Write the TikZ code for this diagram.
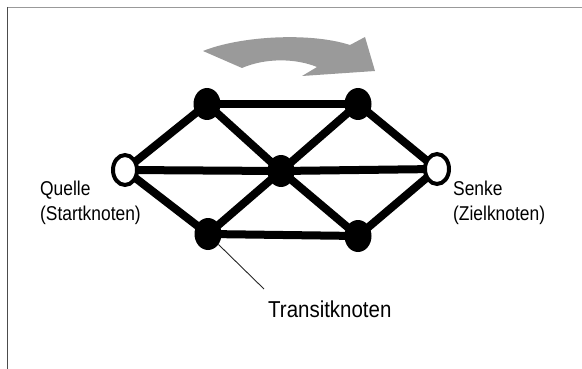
\documentclass[tikz,border=0pt]{standalone}
\usepackage{fontspec}
\setmainfont{Liberation Sans}
\newfontfamily\lblfont[FakeStretch=0.87]{Liberation Sans}
\newfontfamily\bigfont[FakeStretch=0.89]{Liberation Sans}
\usetikzlibrary{backgrounds,shapes.geometric}
\definecolor{arrowgray}{HTML}{9A9A9A}
\tikzset{
  blacknode/.style={ellipse, fill=black, inner sep=0pt, minimum width=27pt, minimum height=32pt},
  whitenode/.style={ellipse, draw=black, fill=white, line width=4pt, inner sep=0pt, minimum width=24pt, minimum height=30pt},
  edge/.style={line width=8pt, draw=black},
  lbl/.style={inner sep=0pt, anchor=base west, font=\lblfont\fontsize{20}{25}\selectfont},
  biglbl/.style={inner sep=0pt, anchor=base west, font=\bigfont\fontsize{23}{28}\selectfont},
  leader/.style={line width=0.9pt, draw=black!85},
}
\begin{document}
\begin{tikzpicture}[x=1pt,y=-1pt]
\useasboundingbox (0,0) rectangle (582,369);
% frame lines
\draw[line width=1.6pt, draw=black!40] (7,7.5) -- (582,7.5);
\draw[line width=1.3pt, draw=black!70] (7.5,7) -- (7.5,369);
% flow arrow
\fill[arrowgray] (203,51) .. controls (240,36) and (310,32) .. (350,45)
  -- (365,37) -- (375,71) -- (302,76) -- (317,67)
  .. controls (295,58) and (265,58) .. (242,68) -- cycle;
% nodes
\node[whitenode] (S) at (125,170) {};
\node[blacknode] (TL) at (207,104) {};
\node[blacknode] (TR) at (358,104) {};
\node[blacknode] (C) at (281,171) {};
\node[blacknode] (BL) at (208,234) {};
\node[blacknode] (BR) at (358,236) {};
\node[whitenode] (T) at (437,169) {};
% edges
\begin{scope}[on background layer]
\draw[edge] (S.center) -- (TL.center);
\draw[edge] (S.center) -- (C.center);
\draw[edge] (S.center) -- (BL.center);
\draw[edge] (TL.center) -- (TR.center);
\draw[edge] (TL.center) -- (C.center);
\draw[edge] (TR.center) -- (C.center);
\draw[edge] (TR.center) -- (T.center);
\draw[edge] (C.center) -- (T.center);
\draw[edge] (C.center) -- (BL.center);
\draw[edge] (C.center) -- (BR.center);
\draw[edge] (BL.center) -- (BR.center);
\draw[edge] (BR.center) -- (T.center);
\end{scope}
% labels
\node[lbl] (q1) at (40,195) {Quelle};
\node[lbl] (q2) at (40,220) {(Startknoten)};
\node[lbl] (s1) at (453,195) {Senke};
\node[lbl] (s2) at (453,220) {(Zielknoten)};
\node[biglbl] (tr) at (268,317) {Transitknoten};
\coordinate (lend) at (264,289);
\draw[leader] (BL.-45) -- (lend);
\end{tikzpicture}
\end{document}
